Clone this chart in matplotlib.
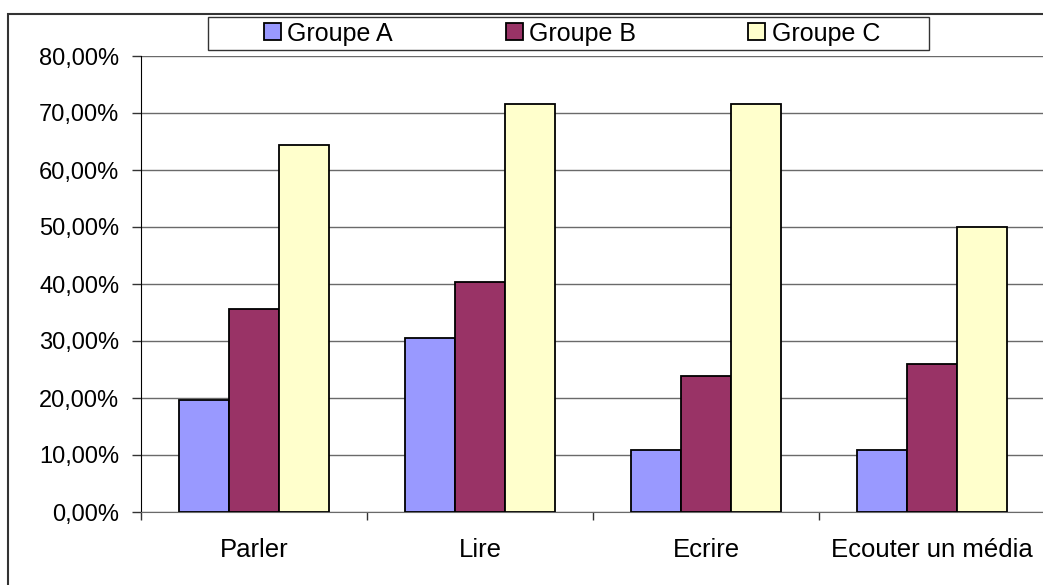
import matplotlib.pyplot as plt
import numpy as np
from matplotlib.patches import Rectangle
from matplotlib.ticker import FuncFormatter, FixedLocator

plt.rcParams['font.family'] = ['Liberation Sans', 'DejaVu Sans']

# data (percent)
categories = ["Parler", "Lire", "Ecrire", "Ecouter un média"]
groupe_a = [19.7, 30.6, 10.9, 10.9]
groupe_b = [35.7, 40.4, 23.9, 26.0]
groupe_c = [64.3, 71.6, 71.6, 50.0]
series_names = ["Groupe A", "Groupe B", "Groupe C"]
colors = ["#9999FF", "#993366", "#FFFFCC"]

W, H = 1043, 585
fig = plt.figure(figsize=(W / 100, H / 100), dpi=100)
fig.patch.set_facecolor("white")

# chart-area border (cropped at right and bottom in the original)
fig.patches.append(Rectangle((8 / W, -0.1), 1.2, (H - 14) / H + 0.1,
                             transform=fig.transFigure, fill=False,
                             edgecolor="#333333", linewidth=1.5, zorder=0))

ax = fig.add_axes([141 / W, (H - 512) / H, 904 / W, 456 / H])

x = np.arange(len(categories)) + 0.5
w = 1 / 4.5
for k, (vals, name, col) in enumerate(zip([groupe_a, groupe_b, groupe_c], series_names, colors)):
    ax.bar(x + (k - 1) * w, vals, width=w, color=col, edgecolor="black",
           linewidth=1.3, label=name, zorder=3)

ax.set_xlim(0, len(categories))
ax.set_ylim(0, 80)
ax.set_yticks(np.arange(0, 81, 10))
ax.yaxis.set_major_formatter(FuncFormatter(lambda v, p: f"{v:.2f}%".replace(".", ",")))
ax.yaxis.grid(True, color="#6a6a6a", linewidth=1.0, zorder=0)

ax.xaxis.set_major_locator(FixedLocator(np.arange(0, len(categories) + 1)))
ax.set_xticklabels([])
ax.set_xticks(x, minor=True)
ax.set_xticklabels(categories, minor=True)
ax.tick_params(axis="x", which="major", length=6, width=1, color="#333333")
ax.tick_params(axis="x", which="minor", length=0, pad=18.5, labelsize=18.5)
ax.tick_params(axis="y", length=6.5, width=1, color="#333333", pad=9, labelsize=17)

for s in ["top", "right"]:
    ax.spines[s].set_visible(False)
ax.spines["left"].set_color("black")
ax.spines["bottom"].set_color("#6a6a6a")
ax.set_axisbelow(True)

# legend frame drawn separately, entries spread over the inner width
fig.patches.append(Rectangle((208 / W, 1 - 50 / H), 721 / W, 33 / H,
                             transform=fig.transFigure, facecolor="white",
                             edgecolor="#333333", linewidth=1.0, zorder=1))
leg = fig.legend(loc="center", bbox_to_anchor=(264 / W, 1 - 50 / H, 616 / W, 33 / H),
                 mode="expand", ncol=3, frameon=False, fontsize=18,
                 handlelength=0.68, handleheight=0.68, handletextpad=0.25,
                 borderpad=0, borderaxespad=0)
leg.set_zorder(2)

fig.savefig("out.png", dpi=100)
